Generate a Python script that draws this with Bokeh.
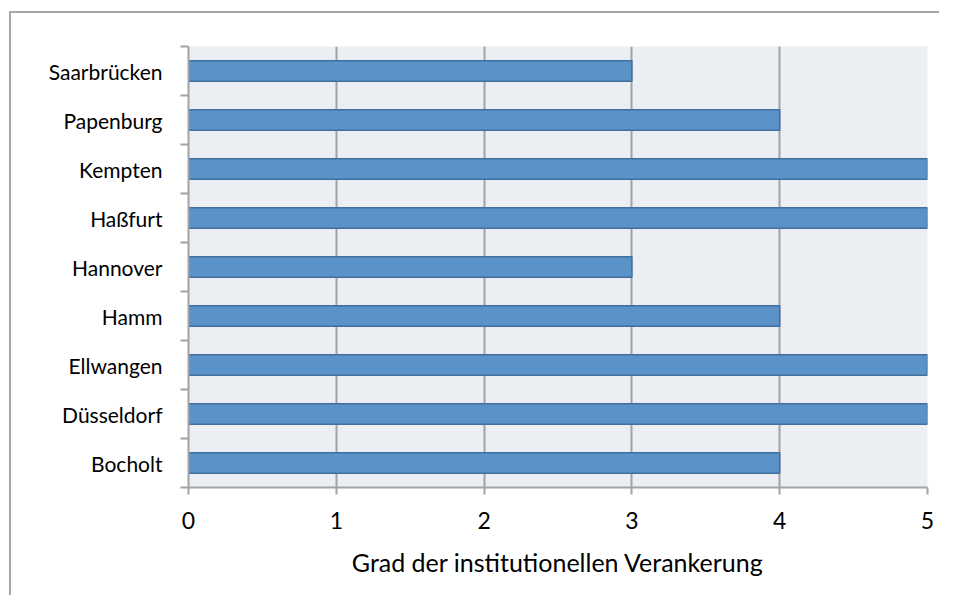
from bokeh.plotting import figure
from bokeh.models import Range1d, LinearAxis, FixedTicker, ColumnDataSource
from bokeh.embed import file_html
from bokeh.resources import INLINE

# Data (bottom to top)
cities = ["Bocholt", "Düsseldorf", "Ellwangen", "Hamm", "Hannover",
          "Haßfurt", "Kempten", "Papenburg", "Saarbrücken"]
values = [4, 5, 5, 4, 3, 5, 5, 4, 3]
x_ticks = [0, 1, 2, 3, 4, 5]
x_label = "Grad der institutionellen Verankerung"

FONT = "Lato"
GRAY = "#A3A3A3"

n = len(cities)
centers = [i + 0.5 for i in range(n)]   # category slots
bounds = list(range(n + 1))             # slot boundaries

p = figure(width=930, height=584, output_backend="svg", toolbar_location=None,
           x_range=Range1d(0, 5), y_range=Range1d(0, n),
           y_axis_location=None,
           min_border_left=177, min_border_right=14, min_border_top=33, min_border_bottom=110)
p.margin = (11, 0, 0, 9)
p.styles = {"border-left": "2px solid #A6A6A6", "border-top": "2px solid #A6A6A6"}

p.background_fill_color = "#EBEEF3"
p.border_fill_color = "white"
p.outline_line_color = None

src = ColumnDataSource(dict(slot=centers, city=cities, value=values))
p.hbar(y="slot", left=0, right="value", height=0.42, source=src,
       fill_color="#5B93C8", line_color="#41709F", line_width=1.5)

# x axis
xa = p.xaxis[0]
xa.ticker = FixedTicker(ticks=x_ticks)
xa.axis_line_color = GRAY
xa.axis_line_width = 2
xa.major_tick_line_color = GRAY
xa.major_tick_line_width = 2
xa.major_tick_out = 7
xa.major_tick_in = 0
xa.minor_tick_line_color = None
xa.major_label_text_font = FONT
xa.major_label_text_font_size = "23px"
xa.major_label_text_color = "black"
xa.major_label_standoff = 17
xa.axis_label = x_label
xa.axis_label_text_font = FONT
xa.axis_label_text_font_size = "25px"
xa.axis_label_text_font_style = "normal"
xa.axis_label_text_color = "black"
xa.axis_label_standoff = 15

p.xgrid.ticker = FixedTicker(ticks=x_ticks)
p.xgrid.grid_line_color = GRAY
p.xgrid.grid_line_width = 2
p.ygrid.visible = False

# y axis: labels at slot centres, tick marks at slot boundaries
ya = LinearAxis(ticker=FixedTicker(ticks=centers, minor_ticks=bounds),
                major_label_overrides={c: name for c, name in zip(centers, cities)})
ya.axis_line_color = GRAY
ya.axis_line_width = 2
ya.major_tick_out = 0
ya.major_tick_in = 0
ya.major_tick_line_color = None
ya.minor_tick_line_color = GRAY
ya.minor_tick_line_width = 2
ya.minor_tick_out = 8
ya.minor_tick_in = 0
ya.major_label_text_font = FONT
ya.major_label_text_font_size = "21px"
ya.major_label_text_color = "black"
ya.major_label_standoff = 18
p.add_layout(ya, "left")

open("out.html", "w").write(file_html(p, INLINE))
